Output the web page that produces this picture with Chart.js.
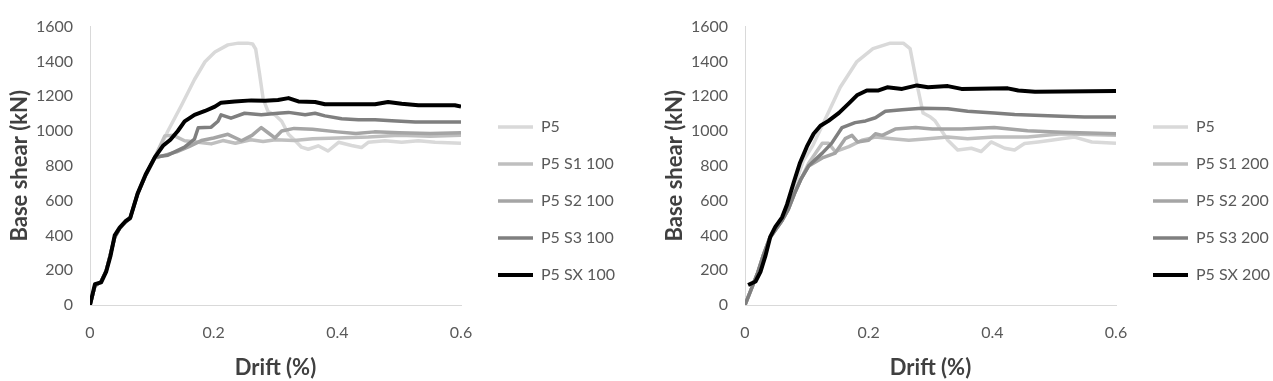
<!DOCTYPE html>
<html><head><meta charset="utf-8">
<script src="https://cdn.jsdelivr.net/npm/chart.js@4/dist/chart.umd.min.js"></script>
<style>
html,body{margin:0;padding:0;background:#fff;}
#wrap{position:relative;width:1273px;height:381px;overflow:hidden;}
.box{position:absolute;top:0;height:381px;}
#b1{left:0;width:655px;}
#b2{left:655px;width:618px;}
</style></head><body>
<div id="wrap"><div class="box" id="b1"><canvas id="c1"></canvas></div><div class="box" id="b2"><canvas id="c2"></canvas></div></div>
<script>
// ---- data (drift %, base shear kN) ----
const labels100 = ["P5", "P5 S1 100", "P5 S2 100", "P5 S3 100", "P5 SX 100"];
const labels200 = ["P5", "P5 S1 200", "P5 S2 200", "P5 S3 200", "P5 SX 200"];
const xTicks = [0, 0.2, 0.4, 0.6];
const yTicks = [0, 200, 400, 600, 800, 1000, 1200, 1400, 1600];

// left panel (100)
const p5_100_d = [0,0.008,0.018,0.026,0.033,0.040,0.048,0.057,0.065,0.077,0.090,0.105,0.118,0.126,0.148,0.169,0.186,0.202,0.223,0.240,0.255,0.263,0.268,0.274,0.280,0.288,0.299,0.310,0.321,0.332,0.342,0.353,0.369,0.385,0.402,0.423,0.439,0.450,0.477,0.504,0.531,0.558,0.600];
const p5_100_v = [0,110,135,195,290,390,440,475,500,640,750,850,940,1000,1148,1296,1398,1454,1495,1505,1505,1500,1470,1333,1185,1111,1093,1056,981,944,907,895,915,885,935,917,905,935,944,935,944,935,930];
const s1_100_d = [0,0.008,0.018,0.026,0.033,0.040,0.048,0.057,0.065,0.077,0.090,0.105,0.121,0.135,0.153,0.175,0.196,0.215,0.235,0.260,0.280,0.300,0.330,0.360,0.400,0.450,0.500,0.550,0.600];
const s1_100_v = [0,110,135,195,290,390,440,475,500,640,745,850,972,975,944,935,926,945,930,950,940,950,945,955,960,965,975,970,975];
const s2_100_d = [0,0.008,0.018,0.026,0.033,0.040,0.048,0.057,0.065,0.077,0.090,0.105,0.120,0.140,0.160,0.180,0.200,0.223,0.245,0.262,0.277,0.288,0.299,0.310,0.330,0.360,0.400,0.430,0.460,0.500,0.550,0.600];
const s2_100_v = [0,110,135,195,290,390,440,475,500,640,745,845,860,880,910,945,960,981,944,975,1020,990,960,1000,1015,1010,995,985,995,990,985,990];
const s3_100_d = [0,0.008,0.018,0.026,0.033,0.040,0.048,0.057,0.065,0.077,0.090,0.105,0.126,0.153,0.169,0.175,0.196,0.207,0.212,0.228,0.250,0.277,0.304,0.321,0.348,0.364,0.380,0.407,0.434,0.461,0.488,0.526,0.600];
const s3_100_v = [0,110,135,195,290,390,440,475,500,640,745,850,861,907,954,1019,1022,1056,1093,1074,1102,1093,1102,1107,1093,1102,1087,1070,1065,1065,1059,1052,1052];
const sx_100_d = [0,0.008,0.018,0.026,0.033,0.040,0.048,0.057,0.065,0.077,0.090,0.105,0.118,0.130,0.142,0.153,0.169,0.186,0.202,0.212,0.234,0.261,0.283,0.304,0.321,0.337,0.364,0.380,0.461,0.482,0.504,0.531,0.590,0.600];
const sx_100_v = [0,120,130,190,280,400,445,480,500,640,750,850,915,950,1000,1055,1093,1115,1140,1163,1170,1176,1174,1178,1189,1170,1167,1154,1154,1167,1157,1148,1148,1140];

// right panel (200)
const p5_200_d = [0,0.010,0.020,0.030,0.040,0.050,0.060,0.070,0.080,0.094,0.110,0.132,0.154,0.181,0.207,0.235,0.256,0.267,0.278,0.288,0.300,0.307,0.318,0.328,0.344,0.366,0.382,0.398,0.420,0.436,0.452,0.474,0.495,0.512,0.533,0.561,0.600];
const p5_200_v = [0,90,180,290,390,440,490,560,680,827,919,1085,1251,1399,1473,1505,1505,1473,1270,1103,1080,1060,1002,947,891,901,882,937,901,891,928,937,947,956,965,937,930];
const s1_200_d = [0,0.010,0.020,0.030,0.040,0.050,0.060,0.070,0.080,0.090,0.103,0.125,0.135,0.146,0.168,0.189,0.211,0.238,0.265,0.296,0.328,0.360,0.403,0.457,0.512,0.600];
const s1_200_v = [0,90,180,290,385,435,486,550,640,720,815,929,930,882,910,947,965,956,947,956,965,956,965,965,984,975];
const s2_200_d = [0,0.010,0.020,0.030,0.040,0.050,0.060,0.070,0.080,0.090,0.103,0.125,0.146,0.162,0.173,0.182,0.200,0.211,0.222,0.243,0.276,0.303,0.350,0.403,0.457,0.512,0.600];
const s2_200_v = [0,90,180,290,385,435,486,550,640,720,799,845,873,956,975,937,947,984,975,1011,1020,1011,1011,1020,1002,993,984];
const s3_200_d = [0,0.010,0.020,0.030,0.040,0.050,0.060,0.070,0.080,0.090,0.103,0.125,0.140,0.157,0.178,0.195,0.211,0.227,0.254,0.286,0.328,0.360,0.403,0.436,0.512,0.549,0.600];
const s3_200_v = [0,90,180,290,385,435,486,550,640,720,800,873,929,1020,1048,1058,1076,1113,1122,1131,1128,1113,1104,1095,1085,1080,1080];
const sx_200_d = [0.005,0.017,0.025,0.033,0.041,0.049,0.060,0.068,0.079,0.089,0.100,0.111,0.122,0.135,0.152,0.168,0.181,0.197,0.216,0.230,0.254,0.278,0.296,0.328,0.350,0.425,0.442,0.469,0.600];
const sx_200_v = [115,135,190,282,393,449,504,578,707,818,910,984,1030,1058,1104,1159,1205,1233,1233,1251,1242,1262,1251,1258,1242,1245,1233,1226,1230];

// ---- styling ----
const colors = ["#d9d9d9", "#bfbfbf", "#a5a5a5", "#7f7f7f", "#000000"];
const widths = [3.5, 3.5, 3.5, 3.5, 4];
const FONT = "Lato, 'Open Sans', sans-serif";
const TARGET_RIGHT = 461;
const LEGEND_GAP = 16;

function pts(d, v) { return d.map((x, i) => ({x: x, y: v[i]})); }

const legendGap = {
  id: 'legendGap',
  afterLayout(chart) {
    const lg = chart.legend;
    if (lg) { lg.left += LEGEND_GAP; lg.right += LEGEND_GAP; }
  }
};

function build(canvasId, names, series) {
  const datasets = series.map((s, i) => ({
    label: names[i],
    data: pts(s[0], s[1]),
    borderColor: colors[i],
    backgroundColor: colors[i],
    borderWidth: widths[i],
    pointRadius: 0,
    tension: 0,
    fill: false,
    borderJoinStyle: 'round',
    order: 5 - i
  }));
  const padding = {left: 0, top: 17, right: 20, bottom: 0};
  const chart = new Chart(document.getElementById(canvasId), {
    type: 'line',
    data: {datasets},
    plugins: [legendGap],
    options: {
      responsive: true, maintainAspectRatio: false, animation: false,
      layout: {padding},
      plugins: {
        tooltip: {enabled: false},
        legend: {
          position: 'right', align: 'start',
          title: {display: true, text: '', font: {size: 1, lineHeight: 1}, padding: {top: 80, bottom: 0}},
          labels: {
            usePointStyle: true, pointStyle: 'line', pointStyleWidth: 35,
            color: '#595959', font: {family: FONT, size: 16, lineHeight: 1.2}, padding: 21,
            sort: (a, b) => a.datasetIndex - b.datasetIndex
          }
        }
      },
      scales: {
        x: {
          type: 'linear', min: xTicks[0], max: xTicks[xTicks.length - 1],
          afterBuildTicks: s => { s.ticks = xTicks.map(v => ({value: v})); },
          ticks: {color: '#595959', font: {family: FONT, size: 16}, padding: 18, maxRotation: 0,
                  callback: v => String(v)},
          grid: {display: false, drawTicks: false},
          border: {display: true, color: '#d9d9d9', width: 1},
          title: {display: true, text: 'Drift (%)', color: '#404040', font: {family: FONT, size: 22, weight: 'bold'}, padding: {top: 0, bottom: 0}},
          afterFit: s => { s.height = 76; }
        },
        y: {
          type: 'linear', min: yTicks[0], max: yTicks[yTicks.length - 1],
          afterBuildTicks: s => { s.ticks = yTicks.map(v => ({value: v})); },
          ticks: {color: '#595959', font: {family: FONT, size: 16}, padding: 17,
                  callback: v => String(v)},
          grid: {display: false, drawTicks: false},
          border: {display: true, color: '#d9d9d9', width: 1},
          title: {display: true, text: 'Base shear (kN)', color: '#404040', font: {family: FONT, size: 22, weight: 'bold'}, padding: {top: 7, bottom: 0}},
          afterFit: s => { s.width = 90; }
        }
      }
    }
  });
  const dx = chart.chartArea.right - TARGET_RIGHT;
  chart.config.options.layout.padding.right = padding.right + dx;
  chart.update('none');
  return chart;
}

build('c1', labels100, [[p5_100_d, p5_100_v], [s1_100_d, s1_100_v], [s2_100_d, s2_100_v], [s3_100_d, s3_100_v], [sx_100_d, sx_100_v]]);
build('c2', labels200, [[p5_200_d, p5_200_v], [s1_200_d, s1_200_v], [s2_200_d, s2_200_v], [s3_200_d, s3_200_v], [sx_200_d, sx_200_v]]);
</script>
</body></html>
